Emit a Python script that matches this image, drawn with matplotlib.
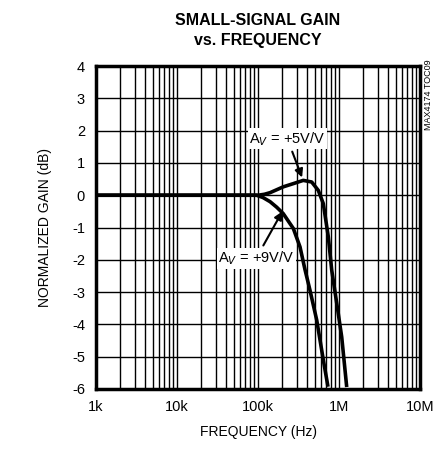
import matplotlib.pyplot as plt
import numpy as np

plt.rcParams['font.family'] = ['Liberation Sans Narrow', 'Liberation Sans', 'DejaVu Sans']

# gain curves (frequency in Hz, gain in dB)
freq_av5 = [1e3, 1e4, 1e5, 1.2e5, 1.41e5, 1.7e5, 2.05e5, 2.73e5, 3.62e5, 4.6e5, 5.55e5, 6.4e5, 7.38e5, 8.13e5, 9.38e5, 1.08e6, 1.245e6]
gain_av5 = [0.0, 0.0, 0.0, 0.03, 0.08, 0.17, 0.26, 0.36, 0.46, 0.41, 0.15, -0.26, -1.29, -2.32, -3.35, -4.39, -5.94]

freq_av9 = [1e3, 1e4, 9.6e4, 1.15e5, 1.41e5, 1.7e5, 2.05e5, 2.73e5, 3.3e5, 3.8e5, 4.38e5, 5.31e5, 6.4e5, 7.31e5]
gain_av9 = [0.0, 0.0, 0.0, -0.07, -0.2, -0.37, -0.57, -1.03, -1.6, -2.3, -2.94, -3.87, -5.1, -5.93]

xtick_vals = [1e3, 1e4, 1e5, 1e6, 1e7]
xtick_labels = ['1k', '10k', '100k', '1M', '10M']
ytick_vals = [4, 3, 2, 1, 0, -1, -2, -3, -4, -5, -6]


def main():
    fig = plt.figure(figsize=(4.41, 4.51), dpi=100)
    ax = fig.add_axes([0.2177, 0.1375, 0.7347, 0.716])

    ax.set_xscale('log')
    ax.set_xlim(1e3, 1e7)
    ax.set_ylim(-6, 4)

    # grid: decade and 2..9 lines, 1 dB horizontal lines
    ax.set_xticks(xtick_vals)
    ax.set_xticklabels(xtick_labels)
    ax.set_yticks(ytick_vals)
    ax.set_yticklabels([str(v) for v in ytick_vals])
    ax.grid(True, which='both', color='black', linewidth=1.0)
    ax.tick_params(which='both', length=0, labelsize=10.5, pad=8)
    ax.set_axisbelow(True)
    for s in ax.spines.values():
        s.set_linewidth(2.5)

    ax.plot(freq_av5, gain_av5, color='black', linewidth=2.6,
            solid_capstyle='butt', solid_joinstyle='round')
    ax.plot(freq_av9, gain_av9, color='black', linewidth=2.6,
            solid_capstyle='butt', solid_joinstyle='round')

    ax.annotate('A$_V$ = +5V/V', xy=(3.5e5, 0.55), xytext=(2.3e5, 1.75),
                ha='center', va='center', fontsize=10.5,
                bbox=dict(facecolor='white', edgecolor='none', pad=1),
                arrowprops=dict(arrowstyle='-|>', color='black', lw=1.5,
                                shrinkA=2, shrinkB=0, mutation_scale=12))
    ax.annotate('A$_V$ = +9V/V', xy=(2.0e5, -0.5), xytext=(9.5e4, -1.95),
                ha='center', va='center', fontsize=10.5,
                bbox=dict(facecolor='white', edgecolor='none', pad=1),
                arrowprops=dict(arrowstyle='-|>', color='black', lw=1.5,
                                shrinkA=2, shrinkB=0, mutation_scale=12))

    ax.set_xlabel('FREQUENCY (Hz)', fontsize=10, labelpad=8)
    ax.set_ylabel('NORMALIZED GAIN (dB)', fontsize=10, labelpad=14)

    fig.text(0.585, 0.955, 'SMALL-SIGNAL GAIN', ha='center', va='center',
             fontsize=11.5, fontweight='bold')
    fig.text(0.585, 0.91, 'vs. FREQUENCY', ha='center', va='center',
             fontsize=11.5, fontweight='bold')
    fig.text(0.972, 0.79, 'MAX4174 TOC09', rotation=90, ha='center', va='center',
             fontsize=6.5)

    fig.savefig('out.png', dpi=100)


if __name__ == "__main__":
    main()
